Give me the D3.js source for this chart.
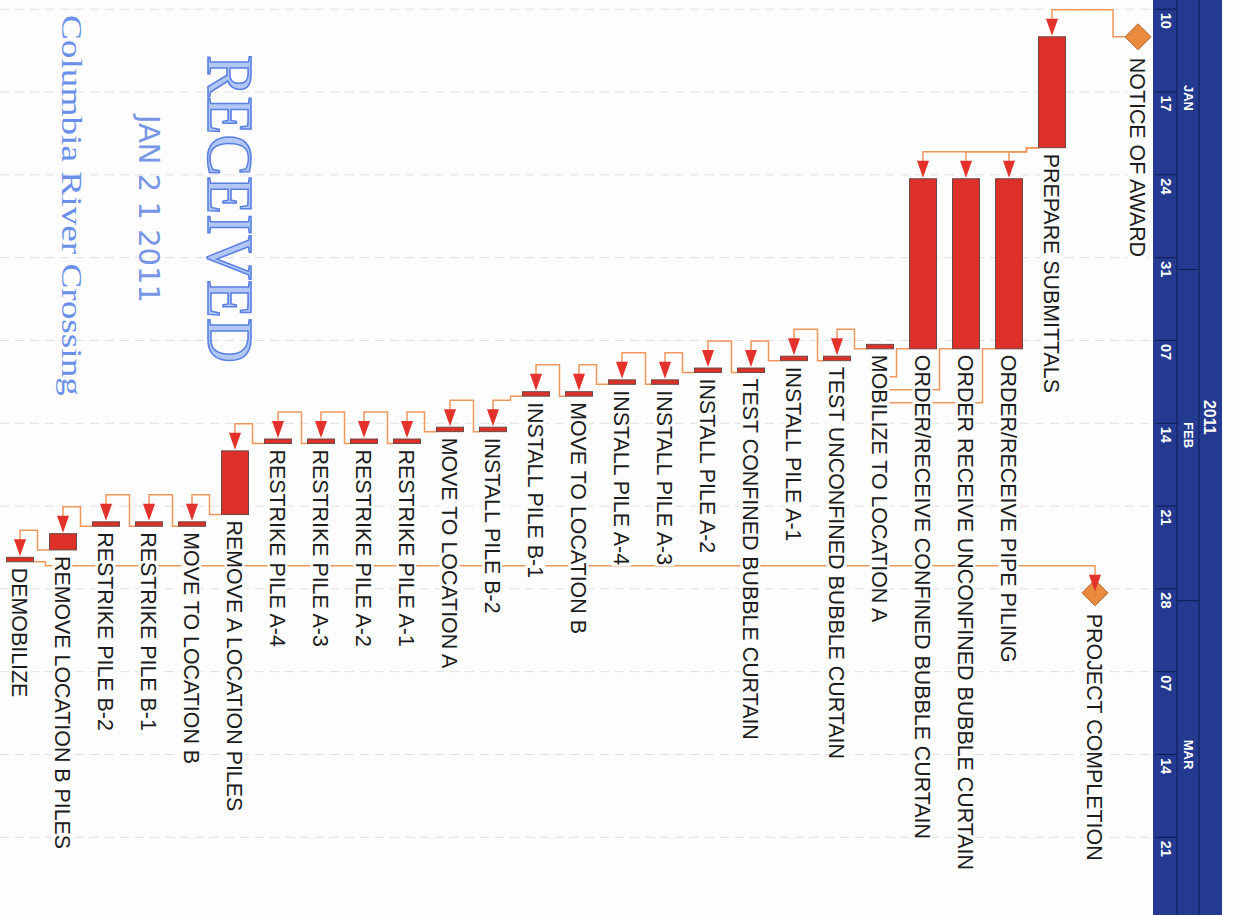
<!DOCTYPE html>
<html><head><meta charset="utf-8">
<script src="https://cdn.jsdelivr.net/npm/d3@7"></script>
<style>html,body{margin:0;padding:0;background:#fdfdfd;overflow:hidden}svg{display:block}</style>
</head><body>
<svg id="chart" width="1240" height="915"></svg>
<script>
// ---------- data ----------
const taskIds = ["noa","pc","ps","pipe","unc","conf","mobA","testU","a1","testC","a2","a3","a4",
  "movB","b1","b2","movA","ra1","ra2","ra3","ra4","remA","movB2","rb1","rb2","remB","demob"];
const taskNames = ["NOTICE OF AWARD","PROJECT COMPLETION","PREPARE SUBMITTALS","ORDER/RECEIVE PIPE PILING",
  "ORDER RECEIVE UNCONFINED BUBBLE CURTAIN","ORDER/RECEIVE CONFINED BUBBLE CURTAIN","MOBILIZE TO LOCATION A",
  "TEST UNCONFINED BUBBLE CURTAIN","INSTALL PILE A-1","TEST CONFINED BUBBLE CURTAIN","INSTALL PILE A-2",
  "INSTALL PILE A-3","INSTALL PILE A-4","MOVE TO LOCATION B","INSTALL PILE B-1","INSTALL PILE B-2",
  "MOVE TO LOCATION A","RESTRIKE PILE A-1","RESTRIKE PILE A-2","RESTRIKE PILE A-3","RESTRIKE PILE A-4",
  "REMOVE A LOCATION PILES","MOVE TO LOCATION B","RESTRIKE PILE B-1","RESTRIKE PILE B-2",
  "REMOVE LOCATION B PILES","DEMOBILIZE"];
const taskStarts = ["2011-01-12T08:00","2011-02-28T08:00","2011-01-12T08:00","2011-01-24T08:00",
  "2011-01-24T08:00","2011-01-24T08:00","2011-02-07T08:00","2011-02-08T08:00","2011-02-08T08:00",
  "2011-02-09T08:00","2011-02-09T08:00","2011-02-10T08:00","2011-02-10T08:00","2011-02-11T08:00",
  "2011-02-11T08:00","2011-02-14T08:00","2011-02-14T08:00","2011-02-15T08:00","2011-02-15T08:00",
  "2011-02-15T08:00","2011-02-15T08:00","2011-02-16T08:00","2011-02-22T08:00","2011-02-22T08:00",
  "2011-02-22T08:00","2011-02-23T08:00","2011-02-25T08:00"];
const taskEnds = ["2011-01-12T08:00","2011-02-28T08:00","2011-01-21T17:00","2011-02-07T17:00",
  "2011-02-07T17:00","2011-02-07T17:00","2011-02-07T17:00","2011-02-08T17:00","2011-02-08T17:00",
  "2011-02-09T17:00","2011-02-09T17:00","2011-02-10T17:00","2011-02-10T17:00","2011-02-11T17:00",
  "2011-02-11T17:00","2011-02-14T17:00","2011-02-14T17:00","2011-02-15T17:00","2011-02-15T17:00",
  "2011-02-15T17:00","2011-02-15T17:00","2011-02-21T17:00","2011-02-22T17:00","2011-02-22T17:00",
  "2011-02-22T17:00","2011-02-24T17:00","2011-02-25T17:00"];
const milestoneIds = ["noa","pc"];
const links = [["noa","ps"],["ps","pipe"],["ps","unc"],["ps","conf"],["mobA","testU"],["testU","a1"],
  ["a1","testC"],["testC","a2"],["a2","a3"],["a3","a4"],["a4","movB"],["movB","b1"],["b1","b2"],
  ["b2","movA"],["movA","ra1"],["ra1","ra2"],["ra2","ra3"],["ra3","ra4"],["ra4","remA"],
  ["remA","movB2"],["movB2","rb1"],["rb1","rb2"],["rb2","remB"],["remB","demob"],["demob","pc"]];
const stubLinks = [["conf","mobA"],["unc","mobA"],["pipe","mobA"]];
const timelineRange = ["2011-01-03","2011-03-27"];
const monthLabels = ["JAN","FEB","MAR"];
const monthStarts = ["2011-01-01","2011-02-01","2011-03-01"];
const yearLabel = "2011";
const stampLines = ["RECEIVED","JAN 2 1 2011","Columbia River Crossing"];

// ---------- scales ----------
const parseT = d3.utcParse("%Y-%m-%dT%H:%M");
const parseD = d3.utcParse("%Y-%m-%d");
const y = d3.scaleUtc().domain([parseD("2011-01-10"), parseD("2011-03-21")]).range([9.2, 837.3]);
const x = d3.scalePoint().domain(taskIds).range([1138, 20]);

const tasks = taskIds.map((id, i) => ({
  id, name: taskNames[i], start: parseT(taskStarts[i]), end: parseT(taskEnds[i]),
  milestone: milestoneIds.includes(id)
}));
const byId = Object.fromEntries(tasks.map(t => [t.id, t]));

const svg = d3.select("#chart");
svg.append("rect").attr("width",1240).attr("height",915).attr("fill","#fdfdfd");

const BAR_W = 27, DIA = 13, ARROW_L = 17, ARROW_HW = 6;
const HEADER_X0 = 1153, HEADER_X1 = 1222, ROW1 = 1177, ROW2 = 1199;
const tl0 = parseD(timelineRange[0]), tl1 = parseD(timelineRange[1]);
const weeks = d3.utcMonday.range(tl0, d3.utcDay.offset(tl1, 1));
const visWeeks = weeks.filter(d => y(d) >= 0 && y(d) < 900);

// ---------- gridlines ----------
svg.append("g").selectAll("line").data(visWeeks).join("line")
  .attr("x1", 0).attr("x2", HEADER_X0).attr("y1", d => y(d)).attr("y2", d => y(d))
  .attr("stroke", "#e0e0e0").attr("stroke-width", 1).attr("stroke-dasharray", "9,6");

// ---------- stamp ----------
const stamp = svg.append("g");
stamp.append("text").attr("transform", `translate(208,55) rotate(90)`)
  .attr("font-family", "'Liberation Serif','DejaVu Serif',serif").attr("font-size", 66)
  .attr("textLength", 308).attr("lengthAdjust", "spacingAndGlyphs")
  .attr("fill", "#b3c7f4").attr("stroke", "#5a80e2").attr("stroke-width", 1.6)
  .text(stampLines[0]);
stamp.append("text").attr("transform", `translate(139,115) rotate(90)`)
  .attr("font-family", "'Liberation Sans Narrow','DejaVu Sans Condensed',sans-serif").attr("font-size", 28)
  .attr("textLength", 188).attr("lengthAdjust", "spacingAndGlyphs")
  .attr("fill", "#7896e6").text(stampLines[1]);
stamp.append("text").attr("transform", `translate(62,15) rotate(90)`)
  .attr("font-family", "'Liberation Serif','DejaVu Serif',serif").attr("font-size", 30)
  .attr("textLength", 381).attr("lengthAdjust", "spacingAndGlyphs")
  .attr("fill", "#6b90ea").text(stampLines[2]);

// ---------- links (lines) ----------
const linkG = svg.append("g").attr("fill", "none").attr("stroke", "#f0975c").attr("stroke-width", 1.5);
const arrowHeads = [];
function halfW(t){ return t.milestone ? DIA : BAR_W/2; }
links.forEach(([a, b]) => {
  const p = byId[a], s = byId[b];
  const dir = x(b) < x(a) ? -1 : 1;
  const edgeX = x(a) + dir * halfW(p);
  const pe = y(p.end);
  const ss = y(s.start);
  const off = (+s.start < +p.end) ? 6 : 12;
  const turnY = ss - 27;
  const path = d3.path();
  path.moveTo(edgeX, pe);
  path.lineTo(edgeX + dir*off, pe);
  path.lineTo(edgeX + dir*off, turnY);
  path.lineTo(x(b), turnY);
  path.lineTo(x(b), ss - ARROW_L);
  linkG.append("path").attr("d", path.toString());
  arrowHeads.push({cx: x(b), tip: ss - 1});
});
stubLinks.forEach(([a, b], k) => {
  const p = byId[a];
  const edgeX = x(a) - halfW(p);
  const pe = y(p.end);
  const level = pe + 28 + 13*k;
  const path = d3.path();
  path.moveTo(edgeX, pe);
  path.lineTo(edgeX - 13, pe);
  path.lineTo(edgeX - 13, level);
  path.lineTo(x(b), level);
  linkG.append("path").attr("d", path.toString());
});

// ---------- labels ----------
const labelG = svg.append("g");
tasks.forEach(t => {
  const y0 = t.milestone ? y(t.start) + DIA + 8 : y(t.end) + 6;
  const g = labelG.append("g").attr("transform", `translate(${x(t.id)},${y0}) rotate(90)`);
  const txt = g.append("text").attr("x", 0).attr("y", 7.6)
    .attr("font-family", "'Liberation Sans',Arial,sans-serif").attr("font-size", 21.4)
    .attr("fill", "#1c1c1c").text(t.name);
  const bb = txt.node().getBBox();
  g.insert("rect", "text").attr("x", bb.x - 1).attr("y", bb.y + 2).attr("width", bb.width + 2)
    .attr("height", bb.height - 4).attr("fill", "#fdfdfd");
});

// ---------- bars ----------
svg.append("g").selectAll("rect").data(tasks.filter(t => !t.milestone)).join("rect")
  .attr("x", d => x(d.id) - BAR_W/2).attr("width", BAR_W)
  .attr("y", d => y(d.start)).attr("height", d => Math.max(1, y(d.end) - y(d.start)))
  .attr("fill", "#dc3029").attr("stroke", "#6a4a44").attr("stroke-width", 1);

// ---------- milestones ----------
svg.append("g").selectAll("path").data(tasks.filter(t => t.milestone)).join("path")
  .attr("d", d => { const cx = x(d.id), cy = y(d.start);
    return `M${cx},${cy-DIA}L${cx+DIA},${cy}L${cx},${cy+DIA}L${cx-DIA},${cy}Z`; })
  .attr("fill", "#ea8a3e").attr("stroke", "#b9652c").attr("stroke-width", 1);

// ---------- arrowheads ----------
svg.append("g").selectAll("path").data(arrowHeads).join("path")
  .attr("d", d => `M${d.cx - ARROW_HW},${d.tip - ARROW_L}L${d.cx + ARROW_HW},${d.tip - ARROW_L}L${d.cx},${d.tip}Z`)
  .attr("fill", "#e3322b");

// ---------- header ----------
const hdr = svg.append("g");
hdr.append("rect").attr("x", HEADER_X0).attr("y", 0).attr("width", HEADER_X1 - HEADER_X0).attr("height", 915)
  .attr("fill", "#233a90");
[ROW1, ROW2].forEach(xx => hdr.append("line").attr("x1", xx).attr("x2", xx).attr("y1", 0).attr("y2", 915)
  .attr("stroke", "#0e1c52").attr("stroke-width", 1));
hdr.append("g").selectAll("line").data(visWeeks).join("line")
  .attr("x1", HEADER_X0 + 2).attr("x2", ROW1).attr("y1", d => y(d)).attr("y2", d => y(d))
  .attr("stroke", "#0e1c52").attr("stroke-width", 1);
const fmtDay = d3.utcFormat("%d");
hdr.append("g").selectAll("text").data(visWeeks).join("text")
  .attr("transform", d => `translate(${(HEADER_X0 + ROW1)/2 + 0.5},${y(d) + 3.5}) rotate(90)`)
  .attr("y", 5).attr("font-family", "'Liberation Sans',Arial,sans-serif").attr("font-size", 14.5)
  .attr("font-weight", "bold").attr("fill", "#ffffff").text(d => fmtDay(d));
const mStarts = monthStarts.map(parseD);
hdr.append("g").selectAll("line").data(mStarts.filter(d => d > tl0)).join("line")
  .attr("x1", ROW1).attr("x2", ROW2).attr("y1", d => y(d)).attr("y2", d => y(d))
  .attr("stroke", "#0e1c52").attr("stroke-width", 1);
hdr.append("g").selectAll("text").data(monthLabels).join("text")
  .attr("transform", (d, i) => {
    const a = Math.max(+mStarts[i], +tl0);
    const b = Math.min(+d3.utcMonth.offset(mStarts[i], 1), +tl1);
    return `translate(${(ROW1 + ROW2)/2},${(y(new Date(a)) + y(new Date(b)))/2}) rotate(90)`;
  })
  .attr("y", 4.5).attr("text-anchor", "middle").attr("font-family", "'Liberation Sans',Arial,sans-serif")
  .attr("font-size", 13).attr("font-weight", "bold").attr("fill", "#ffffff").text(d => d);
hdr.append("text")
  .attr("transform", `translate(${(ROW2 + HEADER_X1)/2 - 1},${(y(tl0) + y(tl1))/2}) rotate(90)`)
  .attr("y", 5.5).attr("text-anchor", "middle").attr("font-family", "'Liberation Sans',Arial,sans-serif")
  .attr("font-size", 16).attr("font-weight", "bold").attr("fill", "#ffffff").text(yearLabel);
</script>
</body></html>
